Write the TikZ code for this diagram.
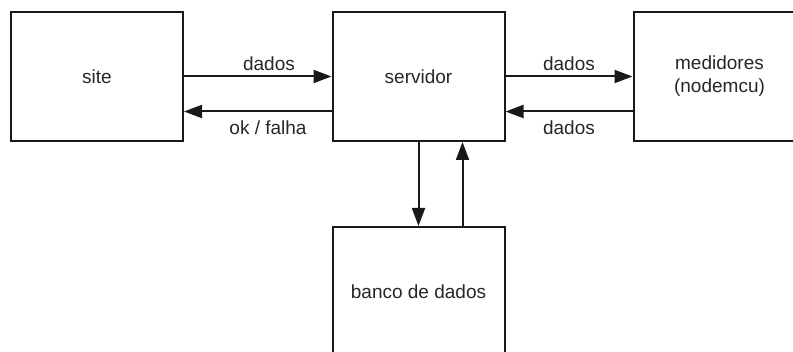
\documentclass[tikz,border=0pt]{standalone}
\usepackage{fontspec}
\setmainfont{Liberation Sans}
\usetikzlibrary{arrows.meta}

\tikzset{
    bloco/.style={draw=black!90, line width=2pt, minimum width=172pt,
        minimum height=129pt, align=center, text=black!85,
        font=\fontsize{19}{23}\selectfont},
    fluxo/.style={draw=black!90, line width=2pt,
        -{Triangle[length=18pt,width=13pt]}},
    rotulo/.style={text=black!85, font=\fontsize{19}{23}\selectfont}
}

\begin{document}
\begin{tikzpicture}[x=1pt,y=1pt]

    \useasboundingbox (0,0) rectangle (793,351);
    \clip (0,0) rectangle (793,351);

    % blocos
    \node[bloco] (site) at (97,274.5) {site};
    \node[bloco] (servidor) at (418.5,274.5) {servidor};
    \node[bloco] (medidores) at (719.5,274.5) {medidores\\(nodemcu)};
    \node[bloco] (banco) at (418.5,59.5) {banco de dados};

    % site <-> servidor
    \draw[fluxo] (site) -- (servidor);
    \draw[fluxo] ([yshift=-35pt]servidor.west) -- ([yshift=-35pt]site.east);
    \node[rotulo] (dadosA) at (269,287) {dados};
    \node[rotulo] (okfalha) at (268,223) {ok / falha};

    % servidor <-> medidores
    \draw[fluxo] (servidor) -- (medidores);
    \draw[fluxo] ([yshift=-35pt]medidores.west) -- ([yshift=-35pt]servidor.east);
    \node[rotulo] (dadosB) at (569,287) {dados};
    \node[rotulo] (dadosC) at (569,223) {dados};

    % servidor <-> banco
    \draw[fluxo] (servidor) -- (banco);
    \draw[fluxo] ([xshift=44pt]banco.north) -- ([xshift=44pt]servidor.south);

\end{tikzpicture}
\end{document}
